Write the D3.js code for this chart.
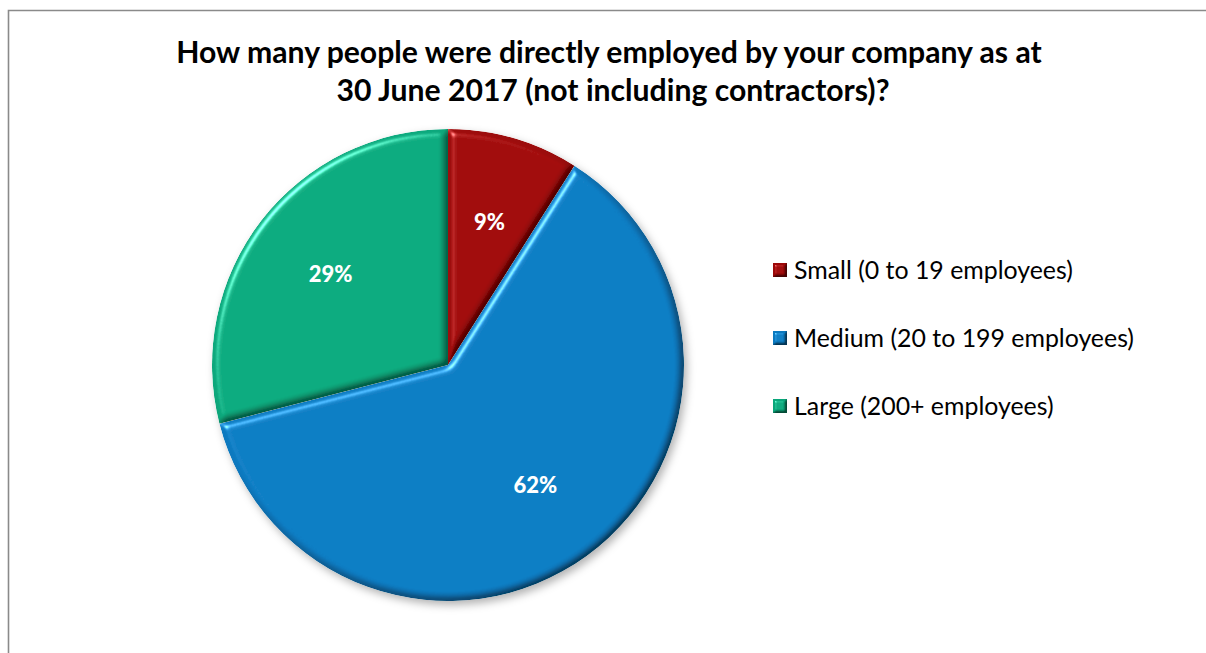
<!DOCTYPE html>
<html>
<head>
<meta charset="utf-8">
<script src="https://cdn.jsdelivr.net/npm/d3@7/dist/d3.min.js"></script>
<style>
  html, body { margin: 0; padding: 0; background: #fff; }
  svg { display: block; }
</style>
</head>
<body>
<svg id="chart" width="1206" height="653"></svg>
<script>
const titleLines = ["How many people were directly employed by your company as at", "30 June 2017 (not including contractors)?"];
const categories = ["Small (0 to 19 employees)", "Medium (20 to 199 employees)", "Large (200+ employees)"];
const values = [9, 62, 29];
const labels = ["9%", "62%", "29%"];
const colors = ["#9c0808", "#0b79bf", "#0aa67a"];

const W = 1206, H = 653;
const svg = d3.select("#chart");
const FONT = "Lato, 'Open Sans', 'DejaVu Sans', sans-serif";

const defs = svg.append("defs");
function bevelFilter(id, blur, scale) {
  const f = defs.append("filter").attr("id", id)
    .attr("x", "-10%").attr("y", "-10%").attr("width", "120%").attr("height", "120%")
    .attr("color-interpolation-filters", "sRGB");
  f.append("feGaussianBlur").attr("in", "SourceAlpha").attr("stdDeviation", blur).attr("result", "blur");
  const d = f.append("feDiffuseLighting").attr("in", "blur").attr("surfaceScale", scale)
    .attr("diffuseConstant", 1.414).attr("lighting-color", "#fff").attr("result", "diff");
  d.append("feDistantLight").attr("azimuth", 225).attr("elevation", 45);
  const s = f.append("feSpecularLighting").attr("in", "blur").attr("surfaceScale", scale)
    .attr("specularConstant", 0.55).attr("specularExponent", 40).attr("lighting-color", "#fff").attr("result", "spec");
  s.append("feDistantLight").attr("azimuth", 225).attr("elevation", 45);
  f.append("feComposite").attr("in", "SourceGraphic").attr("in2", "diff").attr("operator", "arithmetic")
    .attr("k1", 0.55).attr("k2", 0.45).attr("k3", 0).attr("k4", 0).attr("result", "lit");
  f.append("feComposite").attr("in", "spec").attr("in2", "SourceAlpha").attr("operator", "in").attr("result", "specIn");
  f.append("feComposite").attr("in", "lit").attr("in2", "specIn").attr("operator", "arithmetic")
    .attr("k1", 0).attr("k2", 1).attr("k3", 1).attr("k4", 0).attr("result", "out");
  f.append("feComposite").attr("in", "out").attr("in2", "SourceAlpha").attr("operator", "in");
}
bevelFilter("bevel", 3.5, 4);
bevelFilter("bevelSmall", 1.5, 3);
const sh = defs.append("filter").attr("id", "shadow")
  .attr("x", "-10%").attr("y", "-10%").attr("width", "125%").attr("height", "125%");
sh.append("feDropShadow").attr("dx", 3).attr("dy", 4).attr("stdDeviation", 4)
  .attr("flood-color", "#000").attr("flood-opacity", 0.3);

// frame
svg.append("path").attr("d", `M8.5,${H} L8.5,10.5 L${W},10.5`)
  .attr("fill", "none").attr("stroke", "#8a8a8a").attr("stroke-width", 1.6);

// title
function fit(sel, target) {
  let s = parseFloat(sel.attr("font-size"));
  const w = sel.node().getComputedTextLength();
  sel.attr("font-size", (s * target / w).toFixed(2));
}
const t1 = svg.append("text").attr("x", 609).attr("y", 63).attr("text-anchor", "middle")
  .attr("font-family", FONT).attr("font-weight", "bold").attr("font-size", 26).attr("fill", "#000").text(titleLines[0]);
fit(t1, 866);
const t2 = svg.append("text").attr("x", 613).attr("y", 101).attr("text-anchor", "middle")
  .attr("font-family", FONT).attr("font-weight", "bold").attr("font-size", t1.attr("font-size")).attr("fill", "#000").text(titleLines[1]);

// pie
const cx = 448, cy = 365, r = 236;
const pie = d3.pie().sort(null).value(d => d);
const arcs = pie(values);
const arc = d3.arc().innerRadius(0).outerRadius(r);
const labelArc = d3.arc().innerRadius(r * 0.63).outerRadius(r * 0.63);

const g = svg.append("g").attr("transform", `translate(${cx},${cy})`).attr("filter", "url(#shadow)");
g.selectAll("path.slice").data(arcs).join("path")
  .attr("class", "slice")
  .attr("d", arc)
  .attr("fill", (d, i) => colors[i])
  .attr("filter", "url(#bevel)");

svg.append("g").attr("transform", `translate(${cx},${cy})`)
  .selectAll("text").data(arcs).join("text")
  .attr("transform", d => `translate(${labelArc.centroid(d)})`)
  .attr("text-anchor", "middle").attr("dy", "0.35em")
  .attr("font-family", FONT).attr("font-weight", "900").attr("font-size", 22)
  .attr("fill", "#fff")
  .text((d, i) => labels[i]);

// legend
const legendY = d3.scalePoint().domain(categories).range([270, 406]);
const lg = svg.append("g");
const items = lg.selectAll("g").data(categories).join("g")
  .attr("transform", d => `translate(773,${legendY(d)})`);
items.append("rect").attr("x", 0).attr("y", -7).attr("width", 14).attr("height", 14)
  .attr("fill", (d, i) => colors[i]).attr("filter", "url(#bevelSmall)");
const lt = items.append("text").attr("x", 21).attr("y", 0).attr("dy", "0.36em")
  .attr("font-family", FONT).attr("font-size", 22).attr("fill", "#000")
  .text(d => d);
const firstW = lt.nodes()[0].getComputedTextLength();
const lfs = (22 * 279 / firstW).toFixed(2);
lt.attr("font-size", lfs);
</script>
</body>
</html>
